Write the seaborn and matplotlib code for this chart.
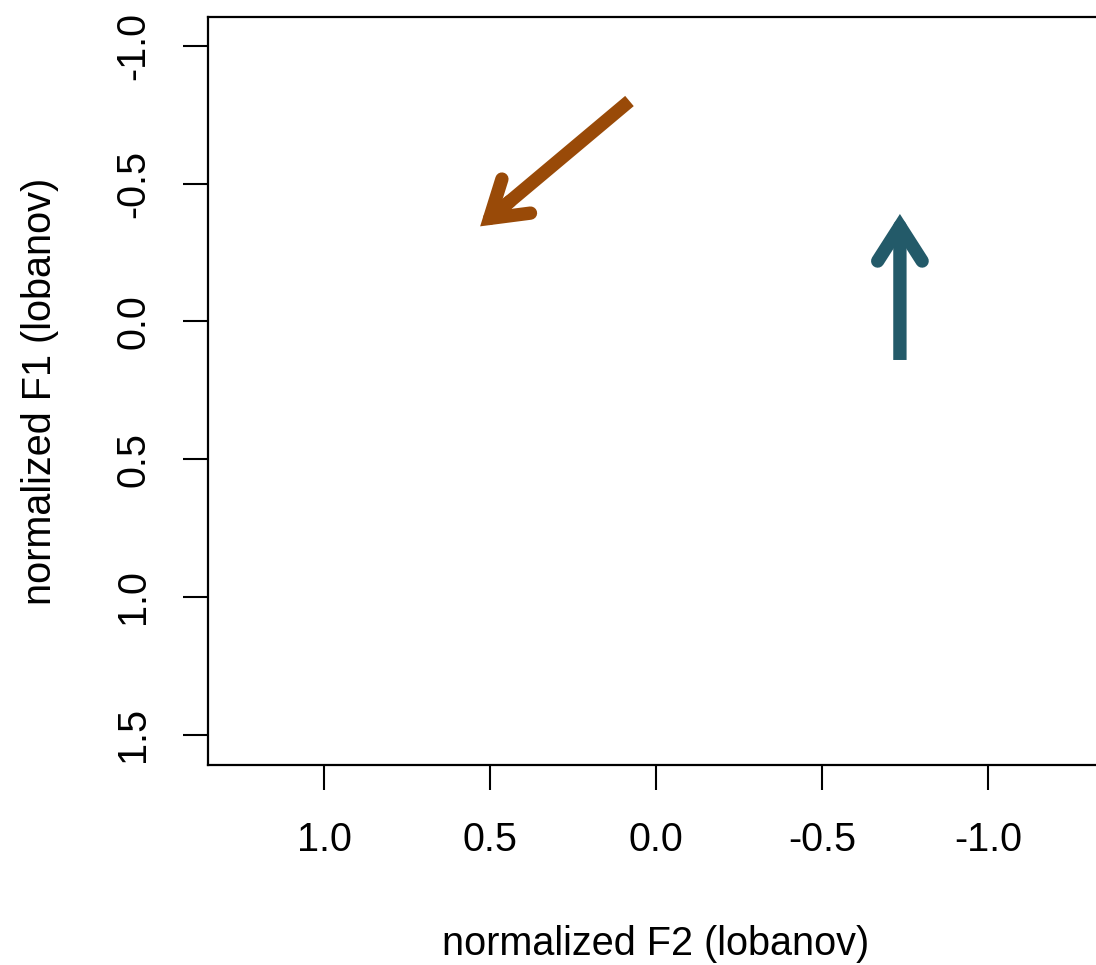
import numpy as np
import matplotlib
matplotlib.use("Agg")
import matplotlib.pyplot as plt
import seaborn as sns

# === Données : flèches de déplacement des voyelles (F2, F1 normalisés) ===
arrow_names = ["brown", "teal"]
f2_start = [0.08, -0.735]
f1_start = [-0.80, 0.14]
f2_end = [0.53, -0.735]
f1_end = [-0.345, -0.39]
arrow_colors = ["#994A08", "#235A69"]

x_ticks = [1.0, 0.5, 0.0, -0.5, -1.0]
y_ticks = [-1.0, -0.5, 0.0, 0.5, 1.0, 1.5]

sns.set_theme(style="ticks")
plt.rcParams['font.family'] = ['Liberation Sans', 'DejaVu Sans']

fig = plt.figure(figsize=(10.96, 9.65), dpi=100)
ax = fig.add_axes([0.1898, 0.2073, 0.8175, 0.7751])

# Flèches : tige à bout plat + tête à bouts arrondis
# (la jonction tige/tête est cachée sous les branches de la tête)
for x0, y0, x1, y1, col in zip(f2_start, f1_start, f2_end, f1_end, arrow_colors):
    xm, ym = x0 + 0.8 * (x1 - x0), y0 + 0.8 * (y1 - y0)
    xs, ys = x0 + 0.88 * (x1 - x0), y0 + 0.88 * (y1 - y0)
    ax.annotate("", xy=(xs, ys), xytext=(x0, y0),
                arrowprops=dict(arrowstyle="-", color=col, lw=9.6,
                                shrinkA=0, shrinkB=0, capstyle="butt"))
    ax.annotate("", xy=(x1, y1), xytext=(xm, ym),
                arrowprops=dict(arrowstyle="->,head_length=2.5,head_width=1.6",
                                color=col, lw=9.6, shrinkA=0, shrinkB=0,
                                mutation_scale=10, capstyle="round", joinstyle="miter"))

# Axes inversés (style R)
ax.set_xlim(1.35, -1.35)
ax.set_ylim(1.61, -1.105)
ax.set_xticks(x_ticks)
ax.set_xticklabels([f"{v:.1f}" for v in x_ticks])
ax.set_yticks(y_ticks)
ax.set_yticklabels([f"{v:.1f}" for v in y_ticks], rotation=90, va="center")

ax.tick_params(axis="both", direction="out", length=18, width=1.5, pad=22,
               labelsize=28.5, colors="black")
for sp in ax.spines.values():
    sp.set_visible(True)
    sp.set_linewidth(1.6)
    sp.set_color("black")

ax.set_xlabel("normalized F2 (lobanov)", fontsize=28.5, labelpad=48, color="black")
ax.set_ylabel("normalized F1 (lobanov)", fontsize=28.5, labelpad=40, color="black")
ax.grid(False)

fig.savefig("out.png", dpi=100, facecolor="white")
